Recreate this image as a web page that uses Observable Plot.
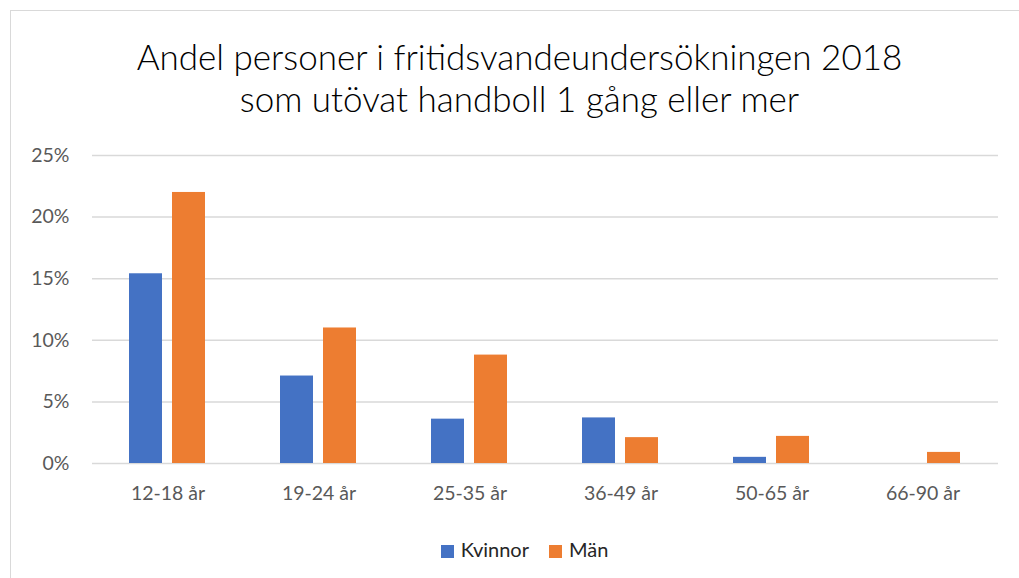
<!DOCTYPE html>
<html><head><meta charset="utf-8">
<script src="https://cdn.jsdelivr.net/npm/d3@7"></script>
<script src="https://cdn.jsdelivr.net/npm/@observablehq/plot@0.6"></script>
<style>
  body { margin:0; background:#fff; font-family: Lato, "Open Sans", "DejaVu Sans", sans-serif; }
  #frame { position:absolute; left:10px; top:10px; width:1100px; height:700px;
           border-left:1.5px solid #d9d9d9; border-top:1.5px solid #d9d9d9; pointer-events:none; }
  #title { height:130px; box-sizing:border-box; padding-top:35px; padding-left:20px; text-align:center;
           font-size:35px; font-weight:300; line-height:42px; color:#000; }
  #legend { display:flex; justify-content:center; align-items:center; gap:20px;
            margin-top:29px; padding-left:30px; font-size:20px; color:#262626; }
  #legend span.sw { display:inline-block; width:13px; height:13px; margin-right:7px; vertical-align:middle; }
  #chart svg { display:block; }
</style></head>
<body>
<div id="frame"></div>
<div id="title">Andel personer i fritidsvandeundersökningen 2018<br>som utövat handboll 1 gång eller mer</div>
<div id="chart"></div>
<div id="legend"></div>
<script>
const categories = ["12-18 år", "19-24 år", "25-35 år", "36-49 år", "50-65 år", "66-90 år"];
const series = ["Kvinnor", "Män"];
const kvinnor = [0.154, 0.071, 0.036, 0.037, 0.005, 0.0];
const man = [0.220, 0.110, 0.088, 0.021, 0.022, 0.009];
const yTicks = [0, 0.05, 0.10, 0.15, 0.20, 0.25];
const colors = ["#4472C4", "#ED7D31"];

const rows = [];
categories.forEach((c, i) => {
  rows.push({age: c, sex: series[0], value: kvinnor[i]});
  rows.push({age: c, sex: series[1], value: man[i]});
});

const chart = Plot.plot({
  width: 1019,
  height: 378,
  marginTop: 25,
  marginLeft: 90,
  marginRight: 19,
  marginBottom: 45,
  style: { fontSize: "19.5px", color: "#595959", fontFamily: "Lato, 'Open Sans', sans-serif", background: "transparent" },
  fx: { domain: categories, padding: 0, label: null, tickSize: 0, tickPadding: 23, axis: "bottom" },
  x: { domain: series, axis: null, paddingInner: 0.23, paddingOuter: 0.84 },
  y: { domain: [0, 0.25], ticks: yTicks, tickFormat: d3.format(".0%"), tickSize: 0, tickPadding: 23, label: null },
  color: { domain: series, range: colors },
  marks: [
    Plot.gridY(yTicks, { stroke: "#d9d9d9", strokeOpacity: 1, strokeWidth: 1.5 }),
    Plot.barY(rows, { fx: "age", x: "sex", y: "value", fill: "sex" })
  ]
});
document.getElementById("chart").appendChild(chart);

const legend = document.getElementById("legend");
series.forEach((s, i) => {
  const item = document.createElement("div");
  item.innerHTML = `<span class="sw" style="background:${colors[i]}"></span>${s}`;
  legend.appendChild(item);
});
</script>
</body></html>
